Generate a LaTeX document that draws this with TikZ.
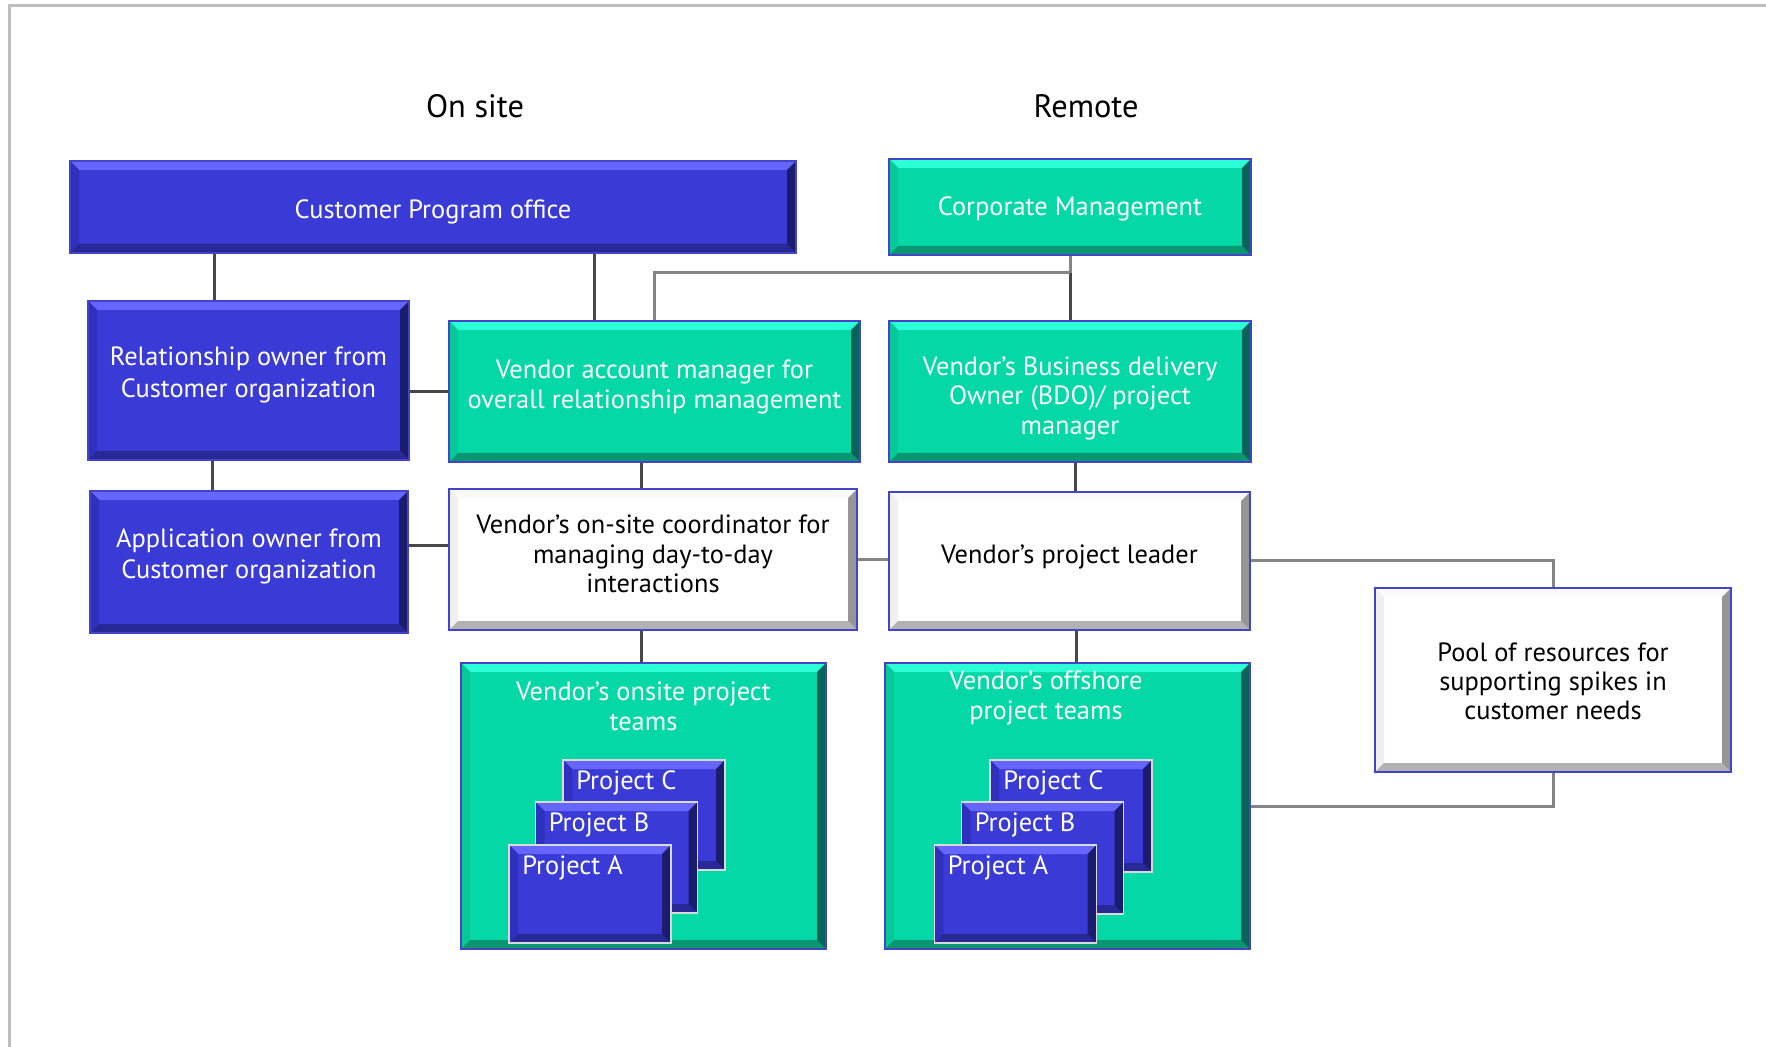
\documentclass[tikz,border=0pt]{standalone}
\usepackage{fontspec}
\setmainfont{PT Sans}

\definecolor{blockblue}{RGB}{58,58,214}
\definecolor{blueup}{RGB}{102,102,255}
\definecolor{blueleft}{RGB}{48,48,190}
\definecolor{bluedown}{RGB}{40,40,150}
\definecolor{blueright}{RGB}{28,28,110}
\definecolor{blockgreen}{RGB}{4,216,166}
\definecolor{greenup}{RGB}{44,255,214}
\definecolor{greenleft}{RGB}{8,200,154}
\definecolor{greendown}{RGB}{10,150,112}
\definecolor{greenright}{RGB}{6,100,90}
\definecolor{whiteup}{RGB}{250,250,250}
\definecolor{whiteleft}{RGB}{240,240,240}
\definecolor{whitedown}{RGB}{178,178,178}
\definecolor{whiteright}{RGB}{150,150,150}
\definecolor{edgeblue}{RGB}{68,68,200}

\tikzset{
  bevel/.style n args={4}{path picture={
    \fill[#1] (path picture bounding box.north west) -- (path picture bounding box.north east)
      -- ([shift={(-4.5pt,-4.5pt)}]path picture bounding box.north east)
      -- ([shift={(4.5pt,-4.5pt)}]path picture bounding box.north west) -- cycle;
    \fill[#2] (path picture bounding box.north west) -- ([shift={(4.5pt,-4.5pt)}]path picture bounding box.north west)
      -- ([shift={(4.5pt,4.5pt)}]path picture bounding box.south west)
      -- (path picture bounding box.south west) -- cycle;
    \fill[#3] (path picture bounding box.south west) -- ([shift={(4.5pt,4.5pt)}]path picture bounding box.south west)
      -- ([shift={(-4.5pt,4.5pt)}]path picture bounding box.south east)
      -- (path picture bounding box.south east) -- cycle;
    \fill[#4] (path picture bounding box.north east) -- (path picture bounding box.south east)
      -- ([shift={(-4.5pt,4.5pt)}]path picture bounding box.south east)
      -- ([shift={(-4.5pt,-4.5pt)}]path picture bounding box.north east) -- cycle;
  }},
  block/.style={draw=edgeblue, line width=0.8pt},
  blueblock/.style={block, fill=blockblue, bevel={blueup}{blueleft}{bluedown}{blueright}},
  greenblock/.style={block, fill=blockgreen, bevel={greenup}{greenleft}{greendown}{greenright}},
  whiteblock/.style={block, fill=white, bevel={whiteup}{whiteleft}{whitedown}{whiteright}},
  boxtext/.style={anchor=center, align=center, text=white, font=\fontsize{13.2}{14.6}\selectfont},
  darktext/.style={boxtext, text=black},
  widetext/.style={font=\fontsize{13.2}{15.8}\selectfont},
  projbox/.style={blueblock, draw=black!15, minimum width=81pt},
  projlabel/.style={anchor=north west, xshift=3.5pt, yshift=-2.2pt, text=white, font=\fontsize{13.2}{14.6}\selectfont},
  teamtext/.style={boxtext, anchor=north},
  heading/.style={font=\fontsize{16.2}{19}\selectfont},
  link/.style={draw=black!72, line width=1.5pt},
  greylink/.style={draw=black!48, line width=1.5pt},
}

\begin{document}
\begin{tikzpicture}[x=0.5pt, y=-0.5pt]

  \useasboundingbox (0,0) rectangle (1766,1047);
  \draw[black!25, line width=1.5pt] (9,1047) -- (9,6) -- (1766,6);

  \node[heading] (onsitehead) at (475,106) {On site};
  \node[heading] (remotehead) at (1086,106) {Remote};

  % top row
  \node[blueblock, minimum width=363pt, minimum height=46pt,
        label={[boxtext, yshift=-2.25pt]center:Customer Program office}] (cpo) at (433,207) {};
  \node[greenblock, minimum width=181pt, minimum height=48pt,
        label={[boxtext, yshift=-1.1pt]center:Corporate Management}] (corp) at (1070,207) {};

  % second row
  \node[blueblock, minimum width=160.5pt, minimum height=79.5pt,
        label={[boxtext, widetext, yshift=2.8pt]center:Relationship owner from\\Customer organization}] (rel) at (248.5,380.5) {};
  \node[greenblock, minimum width=205.5pt, minimum height=70.5pt,
        label={[boxtext, yshift=2.25pt]center:Vendor account manager for\\overall relationship management}] (vam) at (654.5,391.5) {};
  \node[greenblock, minimum width=181pt, minimum height=70.5pt,
        label={[boxtext, yshift=-3.4pt]center:Vendor’s Business delivery\\Owner (BDO)/ project\\manager}] (bdo) at (1070,391.5) {};

  % third row
  \node[blueblock, minimum width=159pt, minimum height=71pt,
        label={[boxtext, widetext, yshift=2.8pt]center:Application owner from\\Customer organization}] (app) at (249,562) {};
  \node[whiteblock, minimum width=204pt, minimum height=70.5pt,
        label={[darktext, yshift=2.8pt]center:Vendor’s on-site coordinator for\\managing day-to-day\\interactions}] (coord) at (653,559.5) {};
  \node[whiteblock, minimum width=180.5pt, minimum height=69pt,
        label={[darktext, yshift=2.25pt]center:Vendor’s project leader}] (lead) at (1069.5,561) {};
  \node[whiteblock, minimum width=178pt, minimum height=92pt,
        label={[darktext, yshift=-0.8pt]center:Pool of resources for\\supporting spikes in\\customer needs}] (pool) at (1553,680) {};

  % project teams
  \node[greenblock, minimum width=182.5pt, minimum height=143pt,
        label={[teamtext, yshift=-6.5pt]north:Vendor’s onsite project\\teams}] (onsite) at (643.5,806) {};
  \node[greenblock, minimum width=182.5pt, minimum height=143pt,
        label={[teamtext, xshift=-10.75pt, yshift=-1pt]north:Vendor’s offshore\\project teams}] (offshore) at (1067.5,806) {};

  \node[projbox, minimum height=55pt, label={[projlabel]north west:Project C}] (onC) at (644,815) {};
  \node[projbox, minimum height=55.5pt, label={[projlabel]north west:Project B}] (onB) at (616.5,857.5) {};
  \node[projbox, minimum height=49pt, label={[projlabel]north west:Project A}] (onA) at (590,894) {};
  \node[projbox, minimum height=56pt, label={[projlabel]north west:Project C}] (offC) at (1071,816) {};
  \node[projbox, minimum height=56pt, label={[projlabel]north west:Project B}] (offB) at (1042.5,858) {};
  \node[projbox, minimum height=49pt, label={[projlabel]north west:Project A}] (offA) at (1015.5,894) {};

  % connectors
  \draw[link] ([xshift=-17.25pt]rel.north) -- ([xshift=-17.25pt]rel.north |- cpo.south);
  \draw[link] ([xshift=-30.25pt]vam.north) -- ([xshift=-30.25pt]vam.north |- cpo.south);
  \draw[link] (rel.east |- vam.west) -- (vam.west);
  \draw[link] ([xshift=-18.5pt]app.north) -- ([xshift=-18.5pt]app.north |- rel.south);
  \draw[link] ([yshift=7pt]coord.west) -- ([yshift=7pt]coord.west -| app.east);
  \draw[link] ([xshift=-6pt]coord.north) -- ([xshift=-6pt]coord.north |- vam.south);
  \draw[link] ([xshift=-1.25pt]onsite.north) -- ([xshift=-1.25pt]onsite.north |- coord.south);

  \coordinate (fork) at (1070,273);
  \draw[greylink] (corp.south) -- (fork);
  \draw[link] (fork) -- (bdo.north);
  \draw[greylink] (fork) -| (vam.north);
  \draw[link] ([xshift=3pt]lead.north) -- ([xshift=3pt]lead.north |- bdo.south);
  \draw[link] ([xshift=4.25pt]offshore.north) -- ([xshift=4.25pt]offshore.north |- lead.south);
  \draw[greylink] (coord.east) -- (coord.east -| lead.west);
  \draw[greylink] (lead.east) -| (pool.north);
  \draw[greylink] (pool.south) |- (offshore.east);

\end{tikzpicture}
\end{document}
